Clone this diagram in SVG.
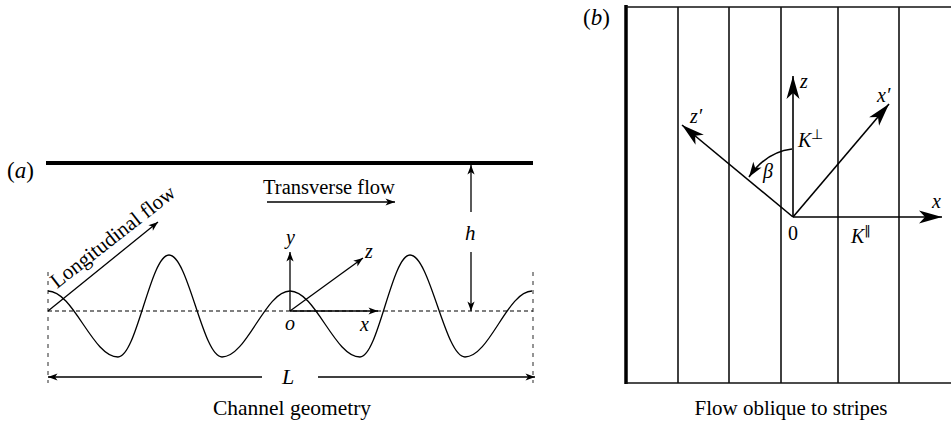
<svg xmlns="http://www.w3.org/2000/svg" width="951" height="423" viewBox="0 0 951 423">
<style>
text{font-family:"Liberation Serif","Times New Roman",serif;fill:#000}
.it{font-style:italic}
.ln{stroke:#000;stroke-width:1.3;fill:none}
.ax{stroke:#000;stroke-width:1.6;fill:none}
.dash{stroke:#000;stroke-width:1.1;stroke-dasharray:4 3;fill:none}
.vdash{stroke:#7a7a7a;stroke-width:1.6;stroke-dasharray:4 5;fill:none}
.stripe{stroke:#111;stroke-width:1.6;fill:none}
</style>
<defs>
<marker id="aS" viewBox="-10 -5 10 10" markerUnits="userSpaceOnUse" markerWidth="10" markerHeight="10" refX="0" refY="0" orient="auto-start-reverse">
<path d="M0,0 L-9.5,-3.6 L-7,0 L-9.5,3.6 Z" fill="#000"/>
</marker>
<marker id="aB" viewBox="-24 -8 24 16" markerUnits="userSpaceOnUse" markerWidth="24" markerHeight="16" refX="0" refY="0" orient="auto">
<path d="M0,0 L-23,-6.5 L-17,0 L-23,6.5 Z" fill="#000"/>
</marker>
<marker id="aM" viewBox="-16 -7 16 14" markerUnits="userSpaceOnUse" markerWidth="16" markerHeight="14" refX="0" refY="0" orient="auto">
<path d="M0,0 L-15,-5 L-11,0 L-15,5 Z" fill="#000"/>
</marker>
</defs>

<g id="panel-a">
<text x="7" y="178" font-size="23"><tspan>(</tspan><tspan class="it">a</tspan><tspan>)</tspan></text>
<g id="top-wall"><line x1="46" y1="163" x2="533" y2="163" stroke="#000" stroke-width="4"/></g>
<g id="boundaries">
<line class="vdash" x1="48" y1="272" x2="48" y2="383"/>
<line class="vdash" x1="533" y1="272" x2="533" y2="383"/>
<line class="dash" x1="48" y1="311" x2="533" y2="311"/>
</g>
<g id="wavy-wall">
<path class="ln" d="M48,291 C73.5,291 92.5,357 118,357 C136.6,357 150.4,255 169,255 C188.3,255 202.7,357 222,357 C246.8,357 265.2,291 290,291 C315.5,291 334.5,357 360,357 C378.2,357 391.8,255 410,255 C430,255 445,357 465,357 C489.4,357 507.6,291 532,291"/>
</g>
<g id="longitudinal-flow">
<text x="57" y="289" font-size="21" transform="rotate(-38 57 289)">Longitudinal flow</text>
</g>
<g id="transverse-flow">
<text x="263" y="194" font-size="20.5">Transverse flow</text>
</g>
<g id="axes-a">
<text class="it" x="286" y="244" font-size="20">y</text>
<text class="it" x="365" y="258" font-size="20">z</text>
<text class="it" x="285" y="330" font-size="20">o</text>
<text class="it" x="360" y="331" font-size="20">x</text>
</g>
<g id="dim-h"><text class="it" x="465" y="240" font-size="21">h</text></g>
<g id="dim-L"><text class="it" x="282" y="384" font-size="22">L</text></g>
<text x="292" y="415" font-size="21.5" text-anchor="middle">Channel geometry</text>
</g>

<g id="connectors-a">
<line class="ln" x1="48" y1="311" x2="158" y2="222" marker-end="url(#aS)"/>
<line class="ln" x1="267" y1="202" x2="395" y2="202" marker-end="url(#aS)"/>
<line class="ln" x1="290" y1="311" x2="290" y2="252" marker-end="url(#aS)"/>
<line class="ln" x1="290" y1="311" x2="378" y2="311" marker-end="url(#aS)"/>
<line class="ln" x1="290" y1="311" x2="363" y2="258" marker-end="url(#aS)"/>
<line class="ln" x1="471" y1="212" x2="471" y2="165" marker-end="url(#aS)"/>
<line class="ln" x1="471" y1="252" x2="471" y2="311" marker-end="url(#aS)"/>
<line class="ln" x1="262" y1="377" x2="48" y2="377" marker-end="url(#aS)"/>
<line class="ln" x1="318" y1="377" x2="535" y2="377" marker-end="url(#aS)"/>
</g>

<g id="panel-b">
<text x="583" y="25" font-size="23"><tspan>(</tspan><tspan class="it">b</tspan><tspan>)</tspan></text>
<g id="stripes">
<line x1="626" y1="5" x2="626" y2="384" stroke="#000" stroke-width="3.5"/>
<line class="stripe" x1="626" y1="7" x2="951" y2="7"/>
<line class="stripe" x1="626" y1="383" x2="951" y2="383"/>
<line class="stripe" x1="678" y1="7" x2="678" y2="383"/>
<line class="stripe" x1="729" y1="7" x2="729" y2="383"/>
<line class="stripe" x1="781" y1="7" x2="781" y2="383"/>
<line class="stripe" x1="838" y1="7" x2="838" y2="383"/>
<line class="stripe" x1="899" y1="7" x2="899" y2="383"/>
</g>
<g id="axes-b">
<text class="it" x="800" y="88" font-size="20">z</text>
<text class="it" x="877" y="102" font-size="20">x′</text>
<text class="it" x="690" y="123" font-size="20">z′</text>
<text class="it" x="932" y="208" font-size="20">x</text>
<text x="788" y="240" font-size="20">0</text>
<text x="798" y="147" font-size="20"><tspan class="it">K</tspan><tspan font-size="14" dy="-8">⊥</tspan></text>
<text x="851" y="243" font-size="20"><tspan class="it">K</tspan><tspan font-size="13" dy="-8" style="font-family:'DejaVu Sans',sans-serif">‖</tspan></text>
<text class="it" x="763" y="178" font-size="20">β</text>
</g>
<text x="791" y="415" font-size="21" text-anchor="middle">Flow oblique to stripes</text>
</g>

<g id="connectors-b">
<line class="ax" x1="793" y1="217" x2="942" y2="217" marker-end="url(#aB)"/>
<line class="ax" x1="793" y1="217" x2="793" y2="76" marker-end="url(#aB)"/>
<line class="ax" x1="793" y1="217" x2="889" y2="104" marker-end="url(#aB)"/>
<line class="ax" x1="793" y1="217" x2="682" y2="125" marker-end="url(#aB)"/>
<path class="ax" d="M792,149 Q766,152 749,177" marker-end="url(#aM)"/>
</g>
</svg>
